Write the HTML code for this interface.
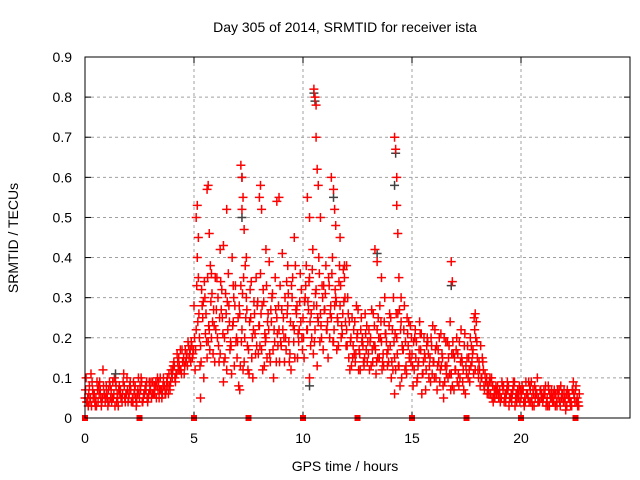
<!DOCTYPE html>
<html><head><meta charset="utf-8"><style>
html,body{margin:0;padding:0;background:#fff}
svg{display:block;font-family:"Liberation Sans",sans-serif}
</style></head><body>
<svg id="chart" width="640" height="480">
<text x="345" y="32" font-size="14" text-anchor="middle">Day 305 of 2014, SRMTID for receiver ista</text>
<text x="345" y="471" font-size="14" text-anchor="middle">GPS time / hours</text>
<text x="18" y="238" font-size="14" text-anchor="middle" transform="rotate(-90 18 238)">SRMTID / TECUs</text>
<g id="grid"></g>
<g id="ticks"></g>
<g id="marks"></g>
<rect x="85" y="57" width="545" height="361" fill="none" stroke="#000" stroke-width="1"/>
</svg>
<script>
const xTicks=[0,5,10,15,20];
const yTicks=[0,0.1,0.2,0.3,0.4,0.5,0.6,0.7,0.8,0.9];
const yTickLabels=["0","0.1","0.2","0.3","0.4","0.5","0.6","0.7","0.8","0.9"];
const markerTimes=[0,2.5,5,7.5,10,12.5,15,17.5,20,22.5];
const seriesA=[.05,.04,.08,.03,.06,.05,.04,.07,.05,.06,
.06,.04,.07,.05,.09,.05,.06,.04,.08,.06,
.05,.07,.04,.08,.06,.05,.09,.06,.07,.05,
.07,.09,.06,.08,.05,.07,.10,.06,.08,.07,
.10,.13,.11,.15,.12,.14,.17,.13,.16,.18,
.28,.22,.35,.18,.25,.30,.15,.22,.20,.27,
.22,.30,.16,.25,.20,.12,.28,.18,.24,.33,
.19,.26,.22,.14,.30,.17,.25,.10,.21,.28,
.23,.17,.29,.20,.26,.14,.31,.19,.25,.22,
.18,.25,.20,.28,.16,.30,.22,.26,.19,.24,
.25,.30,.22,.35,.20,.28,.32,.24,.26,.30,
.27,.22,.33,.25,.19,.30,.24,.28,.21,.35,
.22,.15,.20,.18,.14,.21,.16,.19,.13,.17,
.16,.20,.14,.18,.22,.15,.19,.13,.21,.17,
.18,.22,.15,.20,.13,.24,.17,.19,.21,.16,
.16,.12,.19,.14,.17,.11,.15,.20,.13,.18,
.14,.10,.17,.12,.15,.09,.13,.18,.11,.16,
.12,.16,.10,.14,.18,.11,.15,.13,.17,.12,
.15,.12,.10,.08,.09,.07,.06,.08,.05,.07,
.06,.05,.08,.04,.07,.05,.06,.09,.04,.06,
.05,.07,.04,.06,.08,.05,.03,.06,.05,.07,
.04,.06,.05,.03,.07,.04,.06,.05,.03,.06,
.05,.03,.06,.04,.09,.07,.03];
const seriesB=[.10,.03,.05,.07,.04,.09,.06,.03,.08,.05,
.03,.08,.05,.10,.04,.07,.05,.09,.04,.07,
.08,.04,.06,.03,.10,.07,.04,.07,.05,.09,
.05,.06,.09,.07,.10,.06,.08,.09,.11,.12,
.13,.09,.14,.12,.17,.11,.15,.18,.14,.16,
.12,.40,.20,.32,.10,.26,.19,.38,.24,.14,
.35,.14,.27,.09,.31,.22,.17,.40,.13,.20,
.08,.33,.12,.38,.18,.24,.15,.29,.35,.16,
.36,.12,.21,.15,.39,.24,.10,.27,.18,.33,
.41,.14,.34,.19,.12,.23,.38,.15,.29,.20,
.15,.38,.27,.18,.42,.22,.13,.36,.20,.33,
.38,.15,.26,.40,.28,.17,.34,.20,.37,.24,
.30,.12,.25,.16,.28,.12,.22,.18,.26,.14,
.12,.27,.18,.11,.25,.20,.14,.30,.16,.23,
.10,.30,.12,.26,.08,.18,.28,.11,.24,.14,
.08,.22,.10,.24,.06,.20,.12,.16,.09,.23,
.22,.07,.20,.13,.05,.19,.10,.24,.08,.15,
.20,.08,.22,.12,.06,.18,.09,.14,.25,.24,
.10,.18,.14,.11,.06,.09,.10,.05,.08,.06,
.04,.08,.05,.07,.03,.06,.09,.05,.07,.04,
.08,.03,.06,.09,.04,.07,.05,.10,.04,.06,
.07,.03,.08,.05,.04,.06,.03,.07,.05,.04,
.02,.06,.04,.07,.05,.04,.03];
const seriesC=[.07,.05,.04,.09,.06,.03,.08,.05,.12,.04,
.05,.09,.04,.06,.08,.03,.07,.06,.05,.10,
.06,.04,.09,.05,.07,.08,.04,.06,.09,.06,
.09,.06,.08,.10,.07,.05,.08,.07,.06,.09,
.12,.10,.16,.13,.11,.15,.14,.19,.17,.15,
.20,.33,.26,.14,.29,.21,.35,.17,.31,.23,
.27,.18,.34,.21,.15,.29,.24,.11,.30,.19,
.25,.13,.31,.20,.27,.11,.34,.22,.16,.29,
.18,.28,.13,.33,.22,.27,.17,.35,.21,.14,
.27,.20,.17,.31,.24,.35,.15,.28,.22,.32,
.20,.33,.29,.24,.37,.19,.28,.40,.23,.17,
.31,.24,.20,.36,.22,.29,.18,.33,.26,.30,
.18,.24,.13,.22,.16,.27,.12,.20,.15,.23,
.22,.13,.26,.17,.15,.28,.12,.24,.19,.14,
.25,.12,.21,.16,.27,.10,.22,.13,.18,.23,
.13,.20,.09,.17,.21,.14,.07,.19,.15,.11,
.10,.18,.14,.21,.08,.13,.19,.11,.16,.07,
.17,.11,.14,.09,.21,.15,.12,.18,.11,.20,
.12,.08,.15,.07,.10,.06,.09,.04,.07,.08,
.07,.09,.04,.06,.08,.05,.07,.03,.06,.08,
.06,.04,.09,.05,.07,.03,.08,.06,.04,.05,
.05,.08,.03,.06,.05,.07,.04,.06,.08,.05,
.04,.07,.05,.03,.06,.08,.04];
const seriesD=[.04,.06,.11,.05,.03,.07,.09,.04,.06,.08,
.07,.05,.09,.03,.06,.08,.05,.11,.06,.04,
.09,.05,.07,.04,.06,.10,.05,.08,.04,.07,
.06,.08,.05,.09,.07,.08,.06,.10,.08,.11,
.14,.11,.12,.17,.14,.13,.16,.15,.19,.17,
.17,.24,.13,.28,.34,.19,.23,.29,.16,.35,
.20,.25,.32,.14,.26,.36,.19,.23,.28,.15,
.28,.19,.35,.25,.12,.32,.20,.26,.18,.23,
.26,.32,.19,.24,.16,.30,.22,.14,.28,.19,
.22,.30,.26,.14,.33,.19,.27,.21,.36,.17,
.29,.22,.34,.26,.16,.31,.25,.19,.33,.27,
.22,.35,.28,.19,.32,.25,.38,.23,.29,.18,
.26,.19,.15,.24,.20,.17,.25,.14,.21,.19,
.19,.17,.23,.14,.20,.24,.16,.21,.13,.26,
.14,.19,.26,.13,.22,.17,.12,.25,.15,.20,
.19,.15,.13,.21,.11,.16,.18,.10,.20,.14,
.17,.13,.09,.16,.20,.11,.15,.07,.19,.12,
.09,.19,.15,.07,.13,.10,.20,.16,.22,.19,
.14,.10,.12,.09,.08,.10,.05,.07,.06,.05,
.05,.07,.06,.09,.05,.04,.08,.06,.05,.07,
.07,.05,.06,.04,.09,.06,.07,.04,.07,.05,
.06,.04,.07,.05,.06,.03,.07,.04,.06,.07,
.06,.05,.03,.07,.04,.05,.06];
const seriesStep=0.1;
const spikeTimes=[5.1,5.15,5.2,5.6,5.65,5.7,5.8,6.2,6.35,6.8,7.15,7.2,7.25,7.2,7.3,7.4,8.0,8.05,8.1,8.3,8.8,8.9,9.3,10.2,10.3,10.5,10.55,10.6,10.6,10.65,10.7,10.8,11.3,11.4,11.45,11.5,11.7,11.9,13.3,13.4,13.6,14.2,14.25,14.3,14.3,14.35,14.4,14.5,16.8,16.85,17.9,12.0,6.5,9.6,7.1,14.2,10.3,5.3];
const spikeValues=[.50,.53,.45,.57,.58,.46,.36,.42,.43,.33,.63,.60,.55,.52,.47,.40,.55,.58,.52,.42,.54,.55,.38,.55,.50,.82,.80,.78,.70,.62,.58,.50,.60,.57,.52,.48,.45,.38,.42,.39,.35,.70,.67,.60,.53,.46,.35,.30,.39,.34,.26,.38,.52,.45,.07,.06,.10,.05];
const grayTimes=[10.5,10.55,14.25,14.2,7.2,7.2,16.8,1.4,11.4,13.4,10.3];
const grayValues=[.81,.79,.66,.58,.60,.50,.33,.11,.55,.41,.08];

const X0=85,X1=630,Y0=418,Y1=57,XMAX=25,YMAX=0.9;
function xs(t){return X0+(X1-X0)*t/XMAX;}
function ys(v){return Y0-(Y0-Y1)*v/YMAX;}
const NS="http://www.w3.org/2000/svg";
const grid=document.getElementById('grid'),ticks=document.getElementById('ticks'),marks=document.getElementById('marks');
function mk(tag,attrs,parent){const e=document.createElementNS(NS,tag);for(const k in attrs)e.setAttribute(k,attrs[k]);parent.appendChild(e);return e;}
xTicks.forEach(t=>{
  const x=xs(t);
  if(t>0){const g=mk('line',{x1:x,y1:Y1,x2:x,y2:Y0,stroke:'#a0a0a0','stroke-dasharray':'3,3'},grid);
  
  }
  const l=mk('text',{x:x,y:443,'font-size':14,'text-anchor':'middle'},ticks);l.textContent=t;
  
  
  mk('line',{x1:x,y1:Y0,x2:x,y2:Y0-6,stroke:'#000'},ticks);
  mk('line',{x1:x,y1:Y1,x2:x,y2:Y1+6,stroke:'#000'},ticks);
});
yTicks.forEach((v,i)=>{
  const y=ys(v);
  if(v>0&&v<0.9){const g=mk('line',{x1:X0,y1:y,x2:X1,y2:y,stroke:'#a0a0a0','stroke-dasharray':'3,3'},grid);
  
  }
  const l=mk('text',{x:72,y:y+5,'font-size':14,'text-anchor':'end'},ticks);l.textContent=yTickLabels[i];
  
  
  mk('line',{x1:X0,y1:y,x2:X0+6,y2:y,stroke:'#000'},ticks);
  mk('line',{x1:X1,y1:y,x2:X1-6,y2:y,stroke:'#000'},ticks);
});
function plus(t,v,color,name){
  const x=xs(t),y=ys(v);
  const p=mk('path',{d:`M${x-4.5},${y}H${x+4.5}M${x},${y-4.5}V${y+4.5}`,stroke:color,'stroke-width':1.5,fill:'none'},marks);
  
  
}
seriesA.forEach((v,i)=>plus(i*seriesStep,v,'#ff0000','point-series-a'));
seriesB.forEach((v,i)=>plus(i*seriesStep+0.05,v,'#ff0000','point-series-b'));
seriesC.forEach((v,i)=>plus(i*seriesStep+0.025,v,'#ff0000','point-series-c'));
seriesD.forEach((v,i)=>plus(i*seriesStep+0.075,v,'#ff0000','point-series-d'));
grayTimes.forEach((t,i)=>plus(t,grayValues[i],'#404040','point-gray'));
spikeTimes.forEach((t,i)=>plus(t,spikeValues[i],'#ff0000','point-spike'));
markerTimes.forEach(t=>{
  const r=mk('rect',{x:xs(t)-3,y:Y0-3,width:6,height:6,fill:'#ff0000'},marks);
  
  
});
</script>
</body></html>
